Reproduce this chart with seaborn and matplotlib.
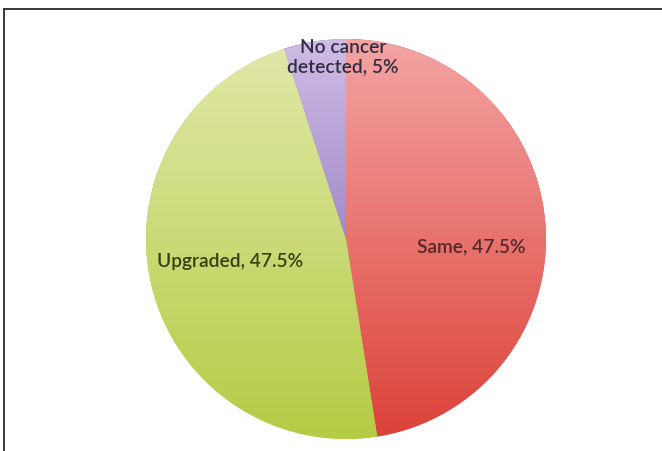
import numpy as np
import matplotlib.pyplot as plt
import seaborn as sns
from matplotlib.colors import LinearSegmentedColormap
from matplotlib.lines import Line2D

# data
categories = ["Same", "Upgraded", "No cancer\ndetected"]
shares = [47.5, 47.5, 5]
pct_text = ["47.5%", "47.5%", "5%"]

# top / bottom colours of the vertical gradient in each slice
top_colors = ["#f4a4a4", "#e2e8aa", "#cfbde6"]
bottom_colors = ["#dc4238", "#b4cc44", "#7456ac"]
text_colors = ["#55282a", "#34400f", "#332d42"]
label_pos = [(0.625, -0.04), (-0.58, -0.115), (-0.015, 0.91)]

sns.set_style("white")
plt.rcParams['font.family'] = ['Lato', 'DejaVu Sans']

fig = plt.figure(figsize=(6.62, 4.51), dpi=100)
ax = fig.add_axes([0.2205, 0.0266, 0.6042, 0.887])

wedges, _ = ax.pie(shares, startangle=90, counterclock=False,
                   colors=bottom_colors, radius=1.0,
                   wedgeprops=dict(linewidth=0))

# vertical gradient fill clipped to each wedge
grad = np.linspace(0, 1, 256).reshape(-1, 1)
for w, ctop, cbot in zip(wedges, top_colors, bottom_colors):
    cmap = LinearSegmentedColormap.from_list("g", [cbot, ctop])
    im = ax.imshow(grad, cmap=cmap, extent=[-1, 1, -1, 1], origin="lower",
                   aspect="auto", zorder=w.get_zorder() + 0.1)
    im.set_clip_path(w)

for cat, pct, (x, y), c in zip(categories, pct_text, label_pos, text_colors):
    txt = cat + ", " + pct
    ax.text(x, y, txt, ha="center", va="center", fontsize=13.8,
            color=c, zorder=5, linespacing=1.2, fontweight="semibold")

ax.set_xlim(-1.0, 1.0)
ax.set_ylim(-1.0, 1.0)
ax.set_aspect("equal")
ax.axis("off")

# frame lines (top and left only)
fig.add_artist(Line2D([0.006, 1.0], [0.979, 0.979], color="#2a2a2a", lw=1.3,
                      transform=fig.transFigure))
fig.add_artist(Line2D([0.006, 0.006], [0.0, 0.979], color="#2a2a2a", lw=1.3,
                      transform=fig.transFigure))

plt.savefig("out.png", dpi=100)
